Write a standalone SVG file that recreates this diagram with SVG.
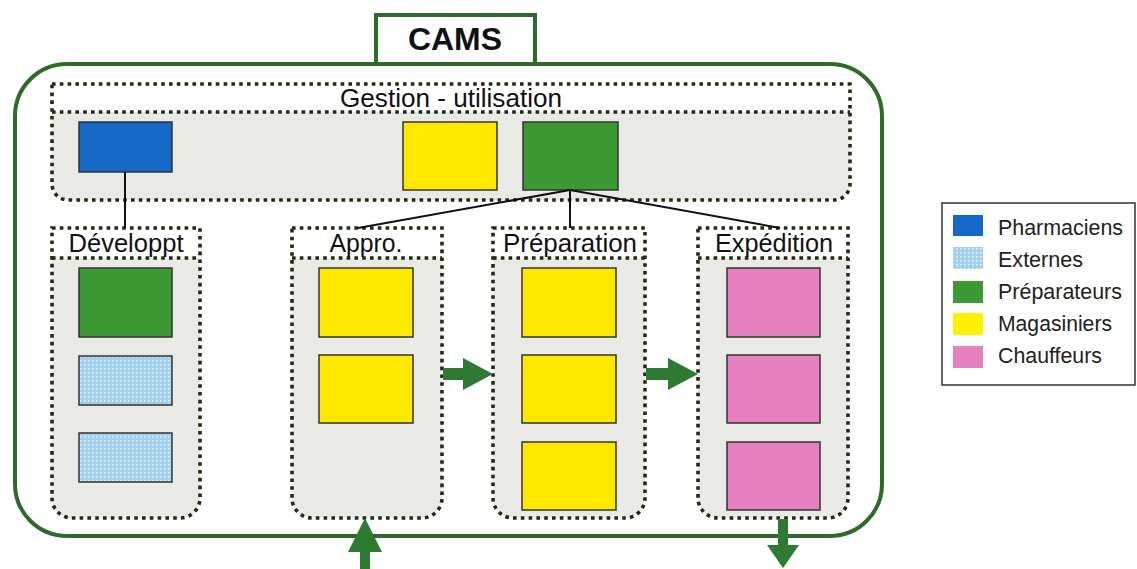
<svg xmlns="http://www.w3.org/2000/svg" width="1137" height="569" viewBox="0 0 1137 569">
<style>
.lbl{font-family:"Liberation Sans",Arial,sans-serif;fill:#111;}
.dot{fill:none;stroke:#1f2c12;stroke-width:3.6;stroke-dasharray:3.6 4.2;}
.gray{fill:#e9e9e6;}
.band{fill:#ffffff;}
.box{stroke:#333;stroke-width:1.5;}
.blue{fill:#1568c6;}
.green{fill:#3c9a34;}
.yellow{fill:#ffe800;}
.pink{fill:#e680bf;}
.ext{fill:url(#extPat);}
.arrow{fill:#2f7a33;}
.conn{stroke:#111;stroke-width:2;fill:none;}
.legtxt{font-family:"Liberation Sans",Arial,sans-serif;font-size:22px;fill:#222;}
</style>
<defs>
<pattern id="extPat" width="4" height="4" patternUnits="userSpaceOnUse">
<rect width="4" height="4" fill="#a3d0ec"/>
<rect x="0" y="0" width="1.5" height="1.5" fill="#e8f4fb"/>
</pattern>
</defs>
<rect width="1137" height="569" fill="#ffffff"/>

<g id="cams-frame">
<rect x="15" y="64" width="867" height="472" rx="52" ry="52" fill="#ffffff" stroke="#2e6b2a" stroke-width="4"/>
</g>
<g id="cams-title">
<rect x="376" y="15" width="159" height="49" fill="#ffffff" stroke="#2e6b2a" stroke-width="4"/>
<text class="lbl" x="455" y="50" font-size="32" font-weight="bold" text-anchor="middle" textLength="94" lengthAdjust="spacingAndGlyphs">CAMS</text>
</g>

<g id="gestion">
<path class="gray" d="M52,112 H850 V184 A16,16 0 0 1 834,200 H68 A16,16 0 0 1 52,184 Z"/>
<rect class="band" x="52" y="84" width="798" height="28"/>
<path class="dot" d="M52,84 H850 V184 A16,16 0 0 1 834,200 H68 A16,16 0 0 1 52,184 Z"/>
<line class="dot" x1="52" y1="112" x2="850" y2="112"/>
<text class="lbl" x="451" y="107" font-size="26" text-anchor="middle" textLength="222" lengthAdjust="spacingAndGlyphs">Gestion - utilisation</text>
<rect class="box blue" x="79" y="122" width="93" height="50"/>
<rect class="box yellow" x="403" y="122" width="94" height="68"/>
<rect class="box green" x="523" y="122" width="95" height="68"/>
</g>

<g id="developpt">
<path class="gray" d="M52,258 H200 V498 A20,20 0 0 1 180,518 H72 A20,20 0 0 1 52,498 Z"/>
<rect class="band" x="52" y="228" width="148" height="30"/>
<path class="dot" d="M52,228 H200 V498 A20,20 0 0 1 180,518 H72 A20,20 0 0 1 52,498 Z"/>
<line class="dot" x1="52" y1="258" x2="200" y2="258"/>
<text class="lbl" x="126" y="252" font-size="26" text-anchor="middle" textLength="115" lengthAdjust="spacingAndGlyphs">Développt</text>
<rect class="box green" x="79" y="268" width="93" height="69"/>
<rect class="box ext" x="79" y="356" width="93" height="49"/>
<rect class="box ext" x="79" y="433" width="93" height="49"/>
</g>

<g id="appro">
<path class="gray" d="M292,258 H442 V498 A20,20 0 0 1 422,518 H312 A20,20 0 0 1 292,498 Z"/>
<rect class="band" x="292" y="228" width="150" height="30"/>
<path class="dot" d="M292,228 H442 V498 A20,20 0 0 1 422,518 H312 A20,20 0 0 1 292,498 Z"/>
<line class="dot" x1="292" y1="258" x2="442" y2="258"/>
<text class="lbl" x="366" y="252" font-size="26" text-anchor="middle" textLength="73" lengthAdjust="spacingAndGlyphs">Appro.</text>
<rect class="box yellow" x="319" y="268" width="94" height="69"/>
<rect class="box yellow" x="319" y="355" width="94" height="68"/>
</g>

<g id="preparation">
<path class="gray" d="M493,258 H645 V498 A20,20 0 0 1 625,518 H513 A20,20 0 0 1 493,498 Z"/>
<rect class="band" x="493" y="228" width="152" height="30"/>
<path class="dot" d="M493,228 H645 V498 A20,20 0 0 1 625,518 H513 A20,20 0 0 1 493,498 Z"/>
<line class="dot" x1="493" y1="258" x2="645" y2="258"/>
<text class="lbl" x="570" y="252" font-size="26" text-anchor="middle" textLength="134" lengthAdjust="spacingAndGlyphs">Préparation</text>
<rect class="box yellow" x="522" y="268" width="94" height="69"/>
<rect class="box yellow" x="522" y="355" width="94" height="68"/>
<rect class="box yellow" x="522" y="442" width="94" height="68"/>
</g>

<g id="expedition">
<path class="gray" d="M698,258 H848 V498 A20,20 0 0 1 828,518 H718 A20,20 0 0 1 698,498 Z"/>
<rect class="band" x="698" y="228" width="150" height="30"/>
<path class="dot" d="M698,228 H848 V498 A20,20 0 0 1 828,518 H718 A20,20 0 0 1 698,498 Z"/>
<line class="dot" x1="698" y1="258" x2="848" y2="258"/>
<text class="lbl" x="774" y="252" font-size="26" text-anchor="middle" textLength="118" lengthAdjust="spacingAndGlyphs">Expédition</text>
<rect class="box pink" x="727" y="268" width="93" height="69"/>
<rect class="box pink" x="727" y="355" width="93" height="68"/>
<rect class="box pink" x="727" y="442" width="93" height="68"/>
</g>

<g id="connectors">
<line class="conn" x1="125" y1="172" x2="125" y2="228"/>
<line class="conn" x1="570" y1="190" x2="358" y2="228"/>
<line class="conn" x1="570" y1="190" x2="570" y2="228"/>
<line class="conn" x1="570" y1="190" x2="780" y2="228"/>
<path class="arrow" d="M443,368 H463 V358 L493,374 L463,390 V380 H443 Z"/>
<path class="arrow" d="M646,368 H668 V358 L698,374 L668,390 V380 H646 Z"/>
<path class="arrow" d="M360,569 V552 H348 L365,518 L382,552 H370 V569 Z"/>
<path class="arrow" d="M778,519 V545 H767 L783,568 L799,545 H788 V519 Z"/>
</g>

<g id="legend">
<rect x="942" y="203" width="193" height="182" fill="#ffffff" stroke="#333" stroke-width="1.5"/>
<rect x="953" y="215" width="30" height="21" class="blue"/>
<text class="legtxt" x="998" y="235" textLength="125" lengthAdjust="spacingAndGlyphs">Pharmaciens</text>
<rect x="953" y="247" width="30" height="22" class="ext"/>
<text class="legtxt" x="998" y="267" textLength="85" lengthAdjust="spacingAndGlyphs">Externes</text>
<rect x="953" y="281" width="30" height="22" class="green"/>
<text class="legtxt" x="998" y="299" textLength="124" lengthAdjust="spacingAndGlyphs">Préparateurs</text>
<rect x="953" y="313" width="30" height="22" fill="#fff000"/>
<text class="legtxt" x="998" y="331" textLength="114" lengthAdjust="spacingAndGlyphs">Magasiniers</text>
<rect x="953" y="346" width="30" height="22" class="pink"/>
<text class="legtxt" x="998" y="363" textLength="104" lengthAdjust="spacingAndGlyphs">Chauffeurs</text>
</g>
</svg>
